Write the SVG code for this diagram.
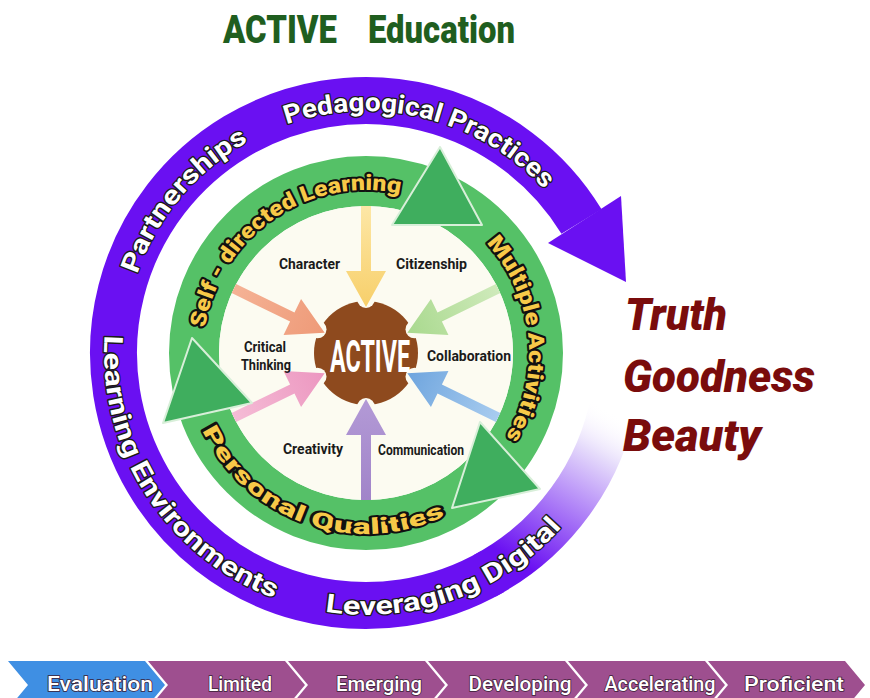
<svg xmlns="http://www.w3.org/2000/svg" width="870" height="698" viewBox="0 0 870 698">
<style>
.ring{font-family:Roboto,"Liberation Sans",sans-serif;font-weight:700;font-size:26px;fill:#fff;stroke:#1a1a1a;stroke-width:2.5px;paint-order:stroke;stroke-linejoin:round}
.gtxt{font-family:Roboto,"Liberation Sans",sans-serif;font-weight:900;font-size:22px;fill:#f7c948;stroke:#111;stroke-width:4px;paint-order:stroke;stroke-linejoin:round}
.lbl{font-family:Roboto,"Liberation Sans",sans-serif;font-weight:700;font-size:15px;fill:#1a1a1a;text-anchor:middle}
.tgb{font-family:Roboto,"Liberation Sans",sans-serif;font-weight:900;font-style:italic;font-size:44px;fill:#7a0c0c}
.chev{font-family:Roboto,"Liberation Sans",sans-serif;font-weight:500;font-size:20px;fill:#fff;stroke:#3a2035;stroke-width:1.5px;paint-order:stroke;text-anchor:middle}
.tri{fill:#3fae5e;stroke:#d8efd9;stroke-width:2;stroke-linejoin:round}
.notch{fill:#fcfbf1}
.ttl{font-family:Roboto,"Liberation Sans",sans-serif;font-weight:900;font-size:38px;fill:#1f5e1f}
</style>
<defs>
<path id="pA" d="M 124,353 A 242 242 0 0 1 608,353"/>
<path id="pB" d="M 108,307.5 A 262 262 0 0 0 612.2,442.6"/>
<path id="pC" d="M 203,353 A 163 163 0 1 1 490.9,457.8"/>
<path id="pD" d="M 185.7,368.8 A 181 181 0 0 0 504.7,469.3"/>
<linearGradient id="fade" gradientUnits="userSpaceOnUse" x1="605" y1="408" x2="515" y2="560">
<stop offset="0" stop-color="#ffffff" stop-opacity="0"/>
<stop offset="0.25" stop-color="#e6dcfb"/>
<stop offset="1" stop-color="#6a10f2"/>
</linearGradient>
<linearGradient id="gY" x1="0" y1="0" x2="1" y2="0"><stop offset="0" stop-color="#fde7a6"/><stop offset="1" stop-color="#f7cf6a"/></linearGradient>
<linearGradient id="gS" x1="0" y1="0" x2="1" y2="0"><stop offset="0" stop-color="#f5b295"/><stop offset="1" stop-color="#ee9a78"/></linearGradient>
<linearGradient id="gG" x1="0" y1="0" x2="1" y2="0"><stop offset="0" stop-color="#cfeabb"/><stop offset="1" stop-color="#a9d98e"/></linearGradient>
<linearGradient id="gP" x1="0" y1="0" x2="1" y2="0"><stop offset="0" stop-color="#f5bcd6"/><stop offset="1" stop-color="#ec97c0"/></linearGradient>
<linearGradient id="gB" x1="0" y1="0" x2="1" y2="0"><stop offset="0" stop-color="#a8ccef"/><stop offset="1" stop-color="#6fa5de"/></linearGradient>
<linearGradient id="gV" x1="0" y1="0" x2="1" y2="0"><stop offset="0" stop-color="#a184c9"/><stop offset="1" stop-color="#b39ad6"/></linearGradient>
<path id="arr" d="M -147,-5 L -82,-5 L -82,-20 L -46,0 L -82,20 L -82,5 L -147,5 Z"/>
</defs>
<rect width="870" height="698" fill="#fff"/>

<g id="title">
<text class="ttl" x="223" y="43" textLength="114" lengthAdjust="spacingAndGlyphs">ACTIVE</text>
<text class="ttl" x="368" y="43" textLength="147" lengthAdjust="spacingAndGlyphs">Education</text>
</g>

<g id="outer-ring">
<path d="M 492.3,571.7 A 252.5 252.5 0 1 1 581.5,221.5" fill="none" stroke="#6a10f2" stroke-width="47"/>
<path d="M 614.7,396.8 A 252.5 252.5 0 0 1 484.5,575.9" fill="none" stroke="url(#fade)" stroke-width="47"/>
<polygon points="548,243 621,196 626,282" fill="#6a10f2"/>
<text class="ring"><textPath href="#pA" startOffset="80" textLength="177" lengthAdjust="spacingAndGlyphs">Partnerships</textPath></text>
<text class="ring"><textPath href="#pA" startOffset="299" textLength="281" lengthAdjust="spacingAndGlyphs">Pedagogical Practices</textPath></text>
<text class="ring"><textPath href="#pB" startOffset="28" textLength="335" lengthAdjust="spacingAndGlyphs">Learning Environments</textPath></text>
<text class="ring"><textPath href="#pB" startOffset="416" textLength="262" lengthAdjust="spacingAndGlyphs">Leveraging Digital</textPath></text>
</g>

<g id="green-ring">
<circle cx="366" cy="353" r="172" fill="none" stroke="#55c167" stroke-width="50"/>
<circle cx="366" cy="353" r="147" fill="#fcfbf1"/>
</g>

<g id="gear">
<circle cx="366" cy="353" r="52" fill="#8e4a1e"/>
<circle class="notch" cx="366" cy="299" r="9"/>
<circle class="notch" cx="366" cy="407" r="9"/>
<circle class="notch" cx="317.5" cy="329.3" r="9"/>
<circle class="notch" cx="317.5" cy="376.7" r="9"/>
<circle class="notch" cx="414.5" cy="329.3" r="9"/>
<circle class="notch" cx="414.5" cy="376.7" r="9"/>
<text x="370" y="372" text-anchor="middle" textLength="80" lengthAdjust="spacingAndGlyphs" style="font-family:Roboto,'Liberation Sans',sans-serif;font-weight:700;font-size:45px;fill:#fff">ACTIVE</text>
</g>

<g id="connectors">
<use href="#arr" fill="url(#gY)" transform="translate(366,353) rotate(90)"/>
<use href="#arr" fill="url(#gS)" transform="translate(366,353) rotate(26)"/>
<use href="#arr" fill="url(#gG)" transform="translate(366,353) rotate(154)"/>
<use href="#arr" fill="url(#gP)" transform="translate(366,353) rotate(-26)"/>
<use href="#arr" fill="url(#gB)" transform="translate(366,353) rotate(-154)"/>
<use href="#arr" fill="url(#gV)" transform="translate(366,353) rotate(-90)"/>
</g>

<g id="labels">
<text class="lbl" x="309.5" y="269" textLength="61" lengthAdjust="spacingAndGlyphs">Character</text>
<text class="lbl" x="431.5" y="269" textLength="71" lengthAdjust="spacingAndGlyphs">Citizenship</text>
<text class="lbl" x="265" y="352" textLength="42" lengthAdjust="spacingAndGlyphs">Critical</text>
<text class="lbl" x="266" y="370" textLength="50" lengthAdjust="spacingAndGlyphs">Thinking</text>
<text class="lbl" x="469" y="361" textLength="84" lengthAdjust="spacingAndGlyphs">Collaboration</text>
<text class="lbl" x="313" y="454" textLength="60" lengthAdjust="spacingAndGlyphs">Creativity</text>
<text class="lbl" x="421" y="455" textLength="86" lengthAdjust="spacingAndGlyphs">Communication</text>
</g>

<g id="cycle-arrows">
<polygon class="tri" points="440,147 392,225 482,225"/>
<polygon class="tri" points="192,338 163,423 252,403"/>
<polygon class="tri" points="480,422 452,508 540,489"/>
</g>

<g id="green-text">
<text class="gtxt"><textPath href="#pC" startOffset="25" textLength="265" lengthAdjust="spacingAndGlyphs">Self - directed Learning</textPath></text>
<text class="gtxt"><textPath href="#pC" startOffset="391" textLength="209" lengthAdjust="spacingAndGlyphs">Multiple Activities</textPath></text>
<text class="gtxt"><textPath href="#pD" startOffset="64" textLength="286" lengthAdjust="spacingAndGlyphs">Personal Qualities</textPath></text>
</g>

<g id="values">
<text class="tgb" x="625" y="330" textLength="102" lengthAdjust="spacingAndGlyphs">Truth</text>
<text class="tgb" x="623" y="392" textLength="192" lengthAdjust="spacingAndGlyphs">Goodness</text>
<text class="tgb" x="623" y="451" textLength="138" lengthAdjust="spacingAndGlyphs">Beauty</text>
</g>

<g id="stages">
<polygon points="8,661 145,661 165,685 145,709 8,709 28,685" fill="#3f8fe3"/>
<polygon points="148,661 285,661 305,685 285,709 148,709 168,685" fill="#9e4f8f"/>
<polygon points="288,661 425,661 445,685 425,709 288,709 308,685" fill="#9e4f8f"/>
<polygon points="428,661 565,661 585,685 565,709 428,709 448,685" fill="#9e4f8f"/>
<polygon points="568,661 705,661 725,685 705,709 568,709 588,685" fill="#9e4f8f"/>
<polygon points="708,661 845,661 865,685 845,709 708,709 728,685" fill="#9e4f8f"/>
<text class="chev" x="100" y="691" textLength="106" lengthAdjust="spacingAndGlyphs">Evaluation</text>
<text class="chev" x="240" y="691" textLength="64" lengthAdjust="spacingAndGlyphs">Limited</text>
<text class="chev" x="379" y="691" textLength="86" lengthAdjust="spacingAndGlyphs">Emerging</text>
<text class="chev" x="520" y="691" textLength="103" lengthAdjust="spacingAndGlyphs">Developing</text>
<text class="chev" x="660" y="691" textLength="111" lengthAdjust="spacingAndGlyphs">Accelerating</text>
<text class="chev" x="794" y="691" textLength="100" lengthAdjust="spacingAndGlyphs">Proficient</text>
</g>
</svg>
